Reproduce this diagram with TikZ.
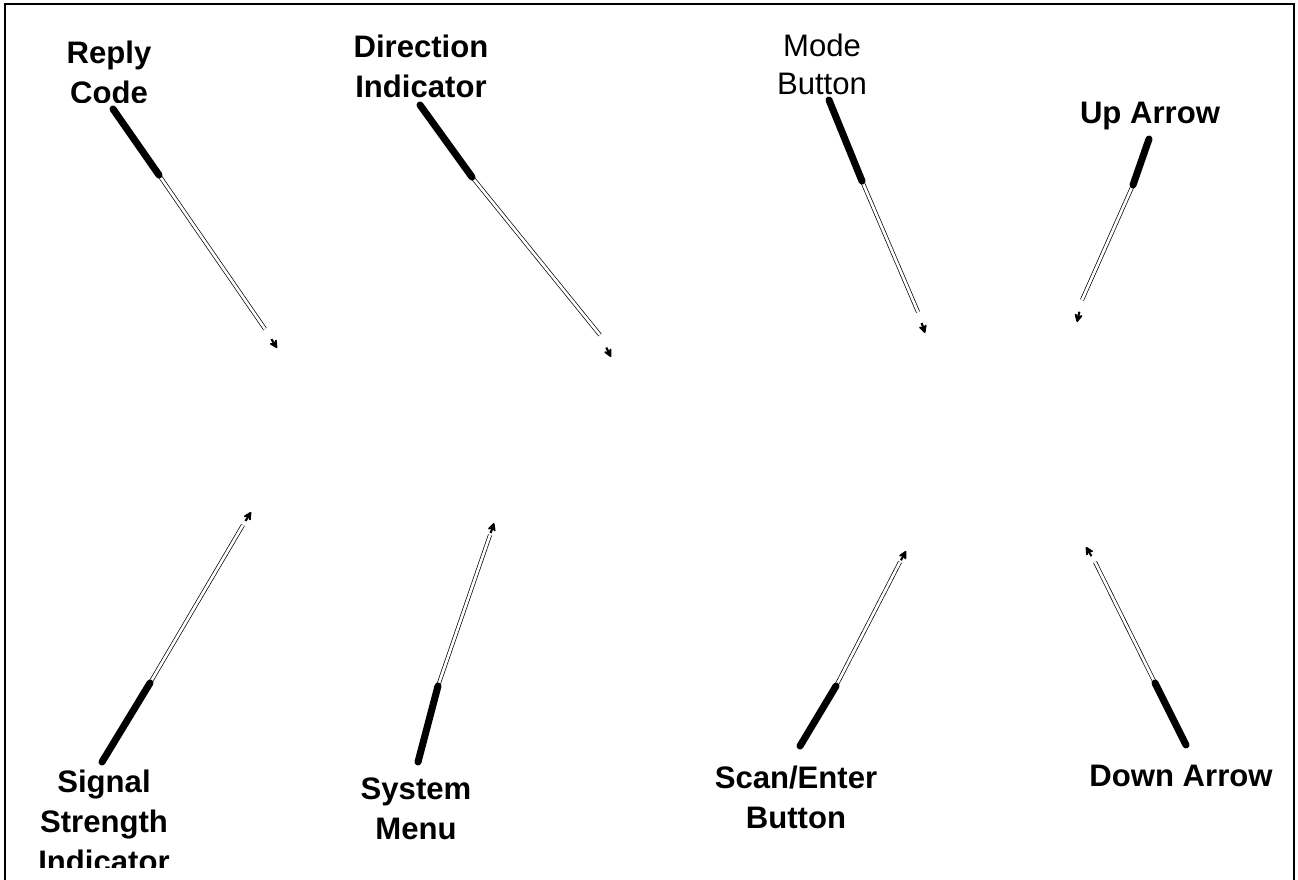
\documentclass[tikz,border=0pt]{standalone}
\usepackage{fontspec}
\setmainfont{Liberation Sans}
\usetikzlibrary{calc,arrows.meta}

\begin{document}
\begin{tikzpicture}[x=0.02cm,y=-0.02cm,
        lbl/.style={font=\fontsize{17.7pt}{22.5pt}\selectfont\bfseries, align=center, inner sep=0pt, anchor=base},
        plainlbl/.style={lbl, font=\fontsize{17.7pt}{21.5pt}\selectfont\mdseries},
        thickpart/.style={line width=4pt, line cap=round},
        thinpart/.style={double=white, double distance=1.5pt, line width=0.4pt},
        tipend/.style={line width=1.2pt, -{Stealth[length=6pt,width=6pt,inset=2.2pt,round]}}]
        \useasboundingbox (0,0) rectangle (1298,879);
        \clip (0,0) rectangle (1298,879);
        %% Frame
        \draw[line width=1.2pt] (5,4) rectangle (1294,890);
        %% Labels (base = last line)
        \begin{scope}
            \clip (40,30) rectangle (180,102);
            \node[lbl] (reply) at (109,103) {Reply\\Code};
        \end{scope}
        \node[lbl] (direction) at (421,97) {Direction\\Indicator};
        \node[plainlbl] (mode) at (822,94) {Mode\\Button};
        \node[lbl] (up) at (1150,123) {Up Arrow};
        \begin{scope}
            \clip (20,760) rectangle (200,867);
            \node[lbl] (signal) at (104,872) {Signal\\Strength\\Indicator};
        \end{scope}
        \node[lbl] (system) at (416,839) {System\\Menu};
        \node[lbl] (scan) at (796,828) {Scan/Enter\\Button};
        \node[lbl] (down) at (1181,786) {Down Arrow};
        %% Leaders: start, break, end of thin part, tip
        \foreach \n/\ax/\ay/\bx/\by/\cx/\cy/\tx/\ty in {
                reply/113/109/159/175/265/329/277/348,
                direction/420/105/472/177/600/335/611/357,
                mode/829/100/862/181/918/312/925/333,
                up/1149/139/1133/185/1082/300/1077/322,
                signal/102/762/150/683/243/525/251/512,
                system/418/762/438/686/490/535/494/523,
                scan/800/746/836/686/900/562/906/551,
                down/1186/745/1155/683/1095/562/1086/547} {
            \coordinate (\n-a) at (\ax,\ay);
            \coordinate (\n-b) at (\bx,\by);
            \coordinate (\n-c) at (\cx,\cy);
            \coordinate (\n-t) at (\tx,\ty);
            \draw[thinpart] (\n-b) -- (\n-c);
            \draw[thickpart] (\n-a) -- (\n-b);
            \draw[tipend] ($(\n-t)!6pt!(\n-c)$) -- (\n-t);
        }
\end{tikzpicture}
\end{document}
